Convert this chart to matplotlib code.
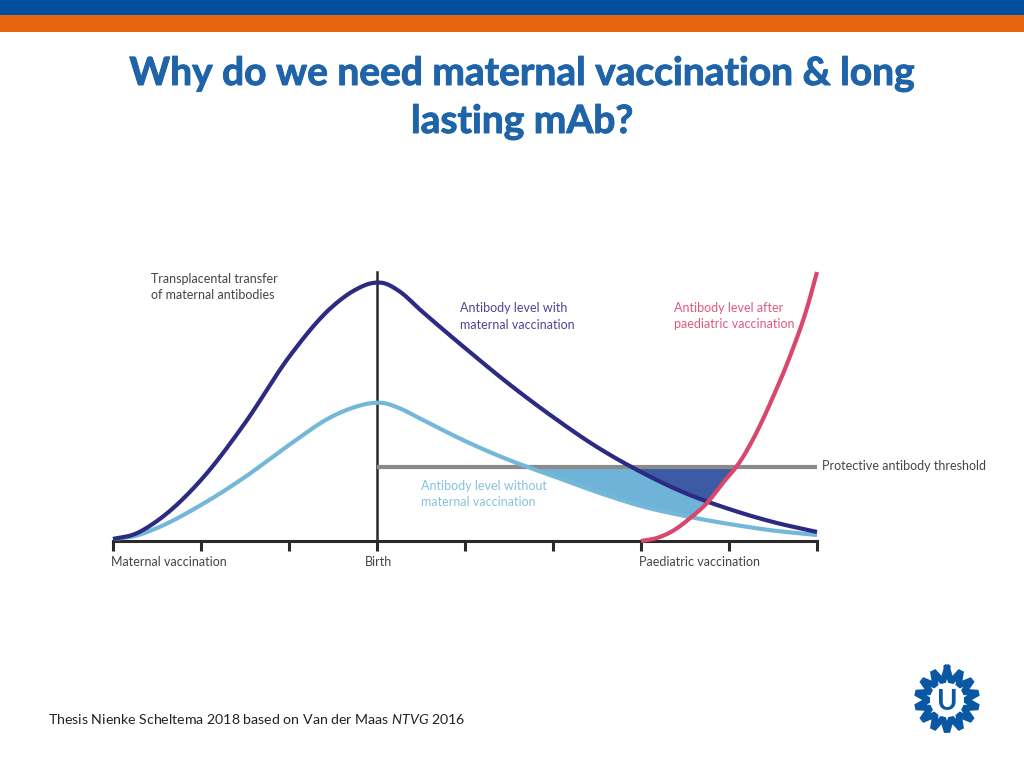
import numpy as np
import matplotlib
matplotlib.use("Agg")
import matplotlib.pyplot as plt
import matplotlib.patheffects as pe
from matplotlib.patches import Rectangle
from matplotlib.transforms import ScaledTranslation

# x = ticks from birth, y = antibody level (arbitrary)
with_x = [-3, -2.75, -2.5, -2, -1.5, -1, -0.5, -0.25, -0.05, 0.07, 0.25, 0.5, 1, 1.5, 2, 2.5, 3,
          3.5, 4, 4.5, 5]
with_y = [2, 7, 20, 61, 118, 184, 235, 251, 258, 258, 250, 230.5, 193, 157, 124, 94, 69,
          48, 32, 19, 9]
without_x = [-3, -2.75, -2.5, -2, -1.5, -1, -0.5, -0.25, -0.05, 0.07, 0.25, 0.5, 1, 1.5, 2, 2.5, 3,
             3.5, 4, 4.5, 5]
without_y = [2, 5, 13, 36, 64, 96, 125, 134, 138, 138, 133, 122, 100, 81, 65, 49, 35,
             25, 17, 10.5, 6]
paed_x = [3, 3.18, 3.36, 3.56, 3.75, 3.93, 4.13, 4.31, 4.5, 4.69, 4.89, 5]
paed_y = [0, 3, 10, 23, 38, 58, 80, 108, 144, 184, 234, 269]
threshold = 74.5
threshold_x = [0, 5]
tick_pos = [-3, -2, -1, 0, 1, 2, 3, 4, 5]
tick_labels = ["Maternal vaccination", "", "", "Birth", "", "", "Paediatric vaccination", "", ""]

DARK = "#2c2a83"
LIGHT = "#74b8d9"
PINK = "#d8476c"
GREY = "#8b8b8b"
BLUE = "#1f63a8"
TEXT = "#444444"

plt.rcParams["mathtext.fontset"] = "custom"
plt.rcParams["mathtext.it"] = "Lato:italic"
plt.rcParams["mathtext.rm"] = "Lato"


# Cubic Hermite through the read points so the lines are not kinked
def smooth(x, y, steps=14):
    x = np.asarray(x, float)
    y = np.asarray(y, float)
    m = np.gradient(y, x)
    xs, ys = [], []
    t = np.linspace(0, 1, steps, endpoint=False)
    for i in range(len(x) - 1):
        h = x[i + 1] - x[i]
        xs.append(x[i] + t * h)
        ys.append((2 * t ** 3 - 3 * t ** 2 + 1) * y[i] + (t ** 3 - 2 * t ** 2 + t) * h * m[i]
                  + (-2 * t ** 3 + 3 * t ** 2) * y[i + 1] + (t ** 3 - t ** 2) * h * m[i + 1])
    xs.append(x[-1:])
    ys.append(y[-1:])
    return np.concatenate(xs), np.concatenate(ys)


fig = plt.figure(figsize=(10.24, 7.68), dpi=100)
W, H = 1024, 768

# header bars
fig.patches.append(Rectangle((0, 1 - 15 / H), 1, 15 / H, transform=fig.transFigure, color="#004f9c", lw=0))
fig.patches.append(Rectangle((0, 1 - 32 / H), 1, 17 / H, transform=fig.transFigure, color="#e8650f", lw=0))

# stroke because the original title face is heavier than Lato bold
fatter = [pe.withStroke(linewidth=0.7, foreground=BLUE)]
fig.text(522 / W, 1 - 85 / H, "Why do we need maternal vaccination & long", ha="center", va="baseline",
         fontsize=28, fontweight="bold", family="Lato", color=BLUE, path_effects=fatter)
fig.text(522 / W, 1 - 133 / H, "lasting mAb?", ha="center", va="baseline",
         fontsize=28, fontweight="bold", family="Lato", color=BLUE, path_effects=fatter)

ax = fig.add_axes([113 / W, 1 - 541 / H, 704 / W, 269 / H])
ax.set_xlim(-3, 5)
ax.set_ylim(0, 269)
ax.patch.set_alpha(0)
for s in ["top", "right"]:
    ax.spines[s].set_visible(False)
ax.spines["left"].set_position(("data", 0))
ax.spines["left"].set_linewidth(1.8)
ax.spines["left"].set_color("#2a2a2a")
ax.spines["bottom"].set_linewidth(2.2)
ax.spines["bottom"].set_color("#2a2a2a")
ax.set_yticks([])
ax.set_xticks(tick_pos, tick_labels, family="Lato", fontsize=9, color=TEXT)
ax.tick_params(axis="x", length=7, width=2.2, color="#2a2a2a", pad=4)
for lab, ha, dx in zip(ax.get_xticklabels(), ["left", "", "", "center", "", "", "left", "", ""],
                       [-2, 0, 0, 1.5, 0, 0, -2, 0, 0]):
    if ha:
        lab.set_ha(ha)
        lab.set_transform(lab.get_transform() + ScaledTranslation(dx / 100, 0, fig.dpi_scale_trans))

dark_x, dark_y = smooth(with_x, with_y)
light_x, light_y = smooth(without_x, without_y)
pink_x, pink_y = smooth(paed_x, paed_y)

# shaded gap, from where the curves cross the threshold up to the paediatric curve
xs = np.linspace(1, 5, 800)
dark_i = np.interp(xs, dark_x, dark_y)
light_i = np.interp(xs, light_x, light_y)
paed_i = np.interp(xs, pink_x, pink_y, left=0)
low = np.maximum(light_i, paed_i)
up = np.minimum(threshold, dark_i)
ax.fill_between(xs, low, up, where=up > low, color="#6fb4d8", lw=0, zorder=2)
low2 = np.maximum(dark_i, paed_i)
ax.fill_between(xs, low2, threshold, where=threshold > low2, color="#3d5aa5", lw=0, zorder=2)

ax.plot(threshold_x, [threshold, threshold], color=GREY, lw=3, solid_capstyle="butt", zorder=3)
ax.plot(light_x, light_y, color=LIGHT, lw=3, zorder=4, clip_on=False, solid_capstyle="butt")
ax.plot(dark_x, dark_y, color=DARK, lw=3, zorder=5, clip_on=False, solid_capstyle="butt")
ax.plot(pink_x, pink_y, color=PINK, lw=3, zorder=6, clip_on=False, solid_capstyle="butt")

ax.text(-2.57, 268, "Transplacental transfer\nof maternal antibodies", family="Lato", fontsize=9,
        color=TEXT, va="top", linespacing=1.42)
ax.text(0.94, 238.5, "Antibody level with\nmaternal vaccination", family="Lato", fontsize=9,
        color="#4b4792", va="top", linespacing=1.42)
ax.text(3.38, 239, "Antibody level after\npaediatric vaccination", family="Lato", fontsize=9,
        color="#e0587c", va="top", linespacing=1.42)
ax.text(0.5, 61, "Antibody level without\nmaternal vaccination", family="Lato", fontsize=9,
        color="#86c3de", va="top", linespacing=1.42)
ax.text(5.06, threshold, "Protective antibody threshold", family="Lato", fontsize=9,
        color=TEXT, va="center", clip_on=False)

# source line
fig.text(47.5 / W, 1 - 724 / H, r"Thesis Nienke Scheltema 2018 based on Van der Maas $\mathit{NTVG}$ 2016",
         family="Lato", fontsize=10.2, color="#222222")

# logo
logo = fig.add_axes([907 / W, 1 - 740 / H, 80 / W, 80 / H])
logo.set_xlim(-40, 40)
logo.set_ylim(-40, 40)
logo.axis("off")
n = 14
ang = np.linspace(0, 2 * np.pi, 2 * n + 1) + np.pi / 2
rad = np.where(np.arange(2 * n + 1) % 2 == 0, 32, 18.5)
logo.plot(rad * np.cos(ang), rad * np.sin(ang), color="#0a58a3", lw=4.5, solid_joinstyle="bevel")
logo.text(0, -2, "U", ha="center", va="center", family="Lato", fontweight="bold", fontsize=20,
          color="#0a58a3")

fig.savefig("out.png", dpi=100)
